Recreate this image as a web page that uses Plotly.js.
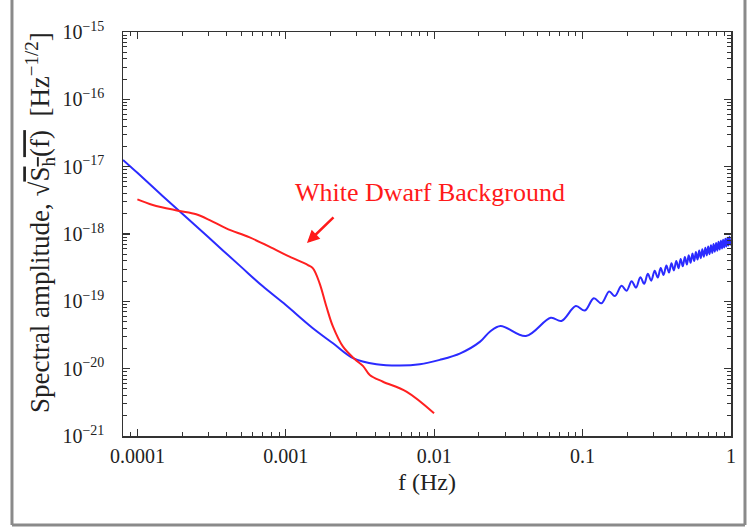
<!DOCTYPE html>
<html>
<head>
<meta charset="utf-8">
<script src="https://cdn.plot.ly/plotly-3.0.1.min.js"></script>
<style>
  html, body { margin: 0; padding: 0; background: #ffffff; }
  #chart { width: 751px; height: 527px; }
</style>
</head>
<body>
<div id="chart"></div>
<script>
// Detector noise curve: smooth low-frequency part (Hz, strain / sqrt(Hz))
const noiseFreq = [8e-5, 1e-4, 1.4e-4, 2e-4, 3e-4, 5e-4, 7e-4, 1e-3, 1.5e-3, 2.08e-3,
                   2.84e-3, 4.08e-3, 5.86e-3, 8.0e-3, 0.0109, 0.015, 0.0204, 0.0237];
const noiseAmp  = [1.26e-17, 8.1e-18, 4.1e-18, 2.02e-18, 9.0e-19, 3.25e-19, 1.67e-19, 8.8e-20, 4.1e-20, 2.38e-20,
                   1.43e-20, 1.16e-20, 1.11e-20, 1.16e-20, 1.35e-20, 1.69e-20, 2.52e-20, 3.54e-20];

// High-frequency ripple of the same curve: local maxima and minima
const ripplePeakFreq = [0.028, 0.061, 0.090, 0.119, 0.151, 0.183, 0.214, 0.245, 0.275, 0.306, 0.336,
                        0.367, 0.397, 0.428, 0.458, 0.489, 0.519, 0.550, 0.580, 0.611, 0.641, 0.672,
                        0.702, 0.733, 0.763, 0.794, 0.824, 0.855, 0.885, 0.916, 0.946, 0.977];
const ripplePeakAmp  = [4.3e-20, 5.7e-20, 8.5e-20, 11.1e-20, 14.0e-20, 17.0e-20, 19.9e-20, 22.8e-20, 25.6e-20, 28.5e-20, 31.2e-20,
                        34.1e-20, 36.9e-20, 39.8e-20, 42.6e-20, 45.5e-20, 48.3e-20, 51.2e-20, 53.9e-20, 56.8e-20, 59.6e-20, 62.5e-20,
                        65.3e-20, 68.2e-20, 71.0e-20, 73.8e-20, 76.6e-20, 79.5e-20, 82.3e-20, 85.2e-20, 88.0e-20, 90.9e-20];
const rippleDipFreq  = [0.0415, 0.072, 0.1035, 0.134, 0.165, 0.198, 0.229, 0.260, 0.290, 0.321, 0.351,
                        0.382, 0.412, 0.443, 0.473, 0.504, 0.534, 0.565, 0.595, 0.626, 0.656, 0.687,
                        0.717, 0.748, 0.778, 0.809, 0.839, 0.870, 0.900, 0.931, 0.961, 0.992];
const rippleDipAmp   = [3.05e-20, 5.1e-20, 7.3e-20, 9.35e-20, 12.0e-20, 14.4e-20, 16.0e-20, 18.2e-20, 20.3e-20, 22.5e-20, 24.6e-20,
                        26.7e-20, 28.8e-20, 31.0e-20, 33.1e-20, 35.3e-20, 37.4e-20, 39.6e-20, 41.7e-20, 43.8e-20, 45.9e-20, 48.1e-20,
                        50.2e-20, 52.4e-20, 54.5e-20, 56.6e-20, 58.7e-20, 60.9e-20, 63.0e-20, 65.2e-20, 67.3e-20, 69.4e-20];
const noiseEndFreq = 1.0;
const noiseEndAmp  = 80e-20;

// Galactic white dwarf binary confusion background
const wdFreq = [1.0e-4, 1.27e-4, 1.876e-4, 2.49e-4, 3.07e-4, 3.97e-4, 5.71e-4, 8.2e-4, 1.06e-3, 1.41e-3,
                1.525e-3, 1.69e-3, 1.88e-3, 2.08e-3, 2.43e-3, 2.92e-3, 3.32e-3, 3.68e-3, 4.52e-3, 6.5e-3, 9.98e-3];
const wdAmp  = [3.27e-18, 2.70e-18, 2.22e-18, 1.96e-18, 1.61e-18, 1.21e-18, 8.9e-19, 6.1e-19, 4.6e-19, 3.46e-19,
                3.09e-19, 1.85e-19, 8.3e-20, 4.2e-20, 2.12e-20, 1.38e-20, 1.09e-20, 8.05e-21, 6.4e-21, 4.55e-21, 2.17e-21];

// Merge the smooth part with alternating ripple extrema
const curveFreq = noiseFreq.slice();
const curveAmp = noiseAmp.slice();
for (let i = 0; i < ripplePeakFreq.length; i++) {
  curveFreq.push(ripplePeakFreq[i]); curveAmp.push(ripplePeakAmp[i]);
  curveFreq.push(rippleDipFreq[i]);  curveAmp.push(rippleDipAmp[i]);
}
curveFreq.push(noiseEndFreq); curveAmp.push(noiseEndAmp);

const serif = '"Liberation Serif", "Times New Roman", serif';
const ink = '#222222';

const traces = [
  {
    x: curveFreq, y: curveAmp, type: 'scatter', mode: 'lines',
    line: { color: '#2b2bff', width: 2, shape: 'spline', smoothing: 1 },
    hoverinfo: 'skip'
  },
  {
    x: wdFreq, y: wdAmp, type: 'scatter', mode: 'lines',
    line: { color: '#ff2020', width: 2, shape: 'spline', smoothing: 1 },
    hoverinfo: 'skip'
  }
];

const axisCommon = {
  type: 'log', dtick: 1, showgrid: false, zeroline: false,
  showline: true, linecolor: '#333333', linewidth: 1.5, mirror: 'ticks',
  ticks: 'inside', ticklen: 7, tickwidth: 1.2, tickcolor: '#333333',
  minor: { ticks: 'inside', ticklen: 4, tickwidth: 1, tickcolor: '#333333', dtick: 'D1', showgrid: false }
};

// outer frame (left, bottom, right sides)
const fx0 = -0.1826, fx1 = 1.0230, fy0 = -0.2203, fy1 = 1.12;
const frameLine = { color: '#8a8a8a', width: 3 };

const layout = {
  width: 751, height: 527,
  margin: { l: 123, r: 20, t: 32, b: 91 },
  paper_bgcolor: '#ffffff', plot_bgcolor: '#ffffff',
  showlegend: false,
  font: { family: serif, color: ink },
  xaxis: Object.assign({}, axisCommon, {
    range: [Math.log10(8e-5), 0],
    exponentformat: 'none',
    tickfont: { family: serif, size: 20, color: ink },
    ticklabelstandoff: 1,
    title: { text: 'f (Hz)', font: { family: serif, size: 24, color: ink }, standoff: 7 }
  }),
  yaxis: Object.assign({}, axisCommon, {
    range: [-21, -15],
    exponentformat: 'power',
    tickfont: { family: serif, size: 16, color: ink },
    ticklabelstandoff: 14
  }),
  annotations: [
    {
      xref: 'paper', yref: 'paper', x: -0.1365, y: 0.527,
      xanchor: 'center', yanchor: 'middle', textangle: -90, showarrow: false,
      text: 'Spectral amplitude, √<span style="text-decoration:overline">S<sub>h</sub>(f)</span>\u00a0\u00a0[Hz<sup>−1/2</sup>]',
      font: { family: serif, size: 27, color: ink }
    },
    {
      xref: 'paper', yref: 'paper', x: 0.505, y: 0.6015,
      xanchor: 'center', yanchor: 'middle', showarrow: false,
      text: 'White Dwarf Background',
      font: { family: serif, size: 26, color: '#ff1a1a' }
    },
    {
      xref: 'paper', yref: 'paper', x: 0.3026, y: 0.4777,
      ax: 28, ay: -27, text: '', showarrow: true,
      arrowhead: 2, arrowsize: 1, arrowwidth: 2.5, arrowcolor: '#ff1a1a', standoff: 0
    }
  ],
  shapes: [
    { type: 'line', xref: 'paper', yref: 'paper', x0: fx0, x1: fx0, y0: fy0, y1: fy1, line: frameLine },
    { type: 'line', xref: 'paper', yref: 'paper', x0: fx0, x1: fx1, y0: fy0, y1: fy0, line: frameLine },
    { type: 'line', xref: 'paper', yref: 'paper', x0: fx1, x1: fx1, y0: fy0, y1: fy1, line: frameLine }
  ]
};

Plotly.newPlot('chart', traces, layout, { staticPlot: true, displayModeBar: false });
</script>
</body>
</html>
